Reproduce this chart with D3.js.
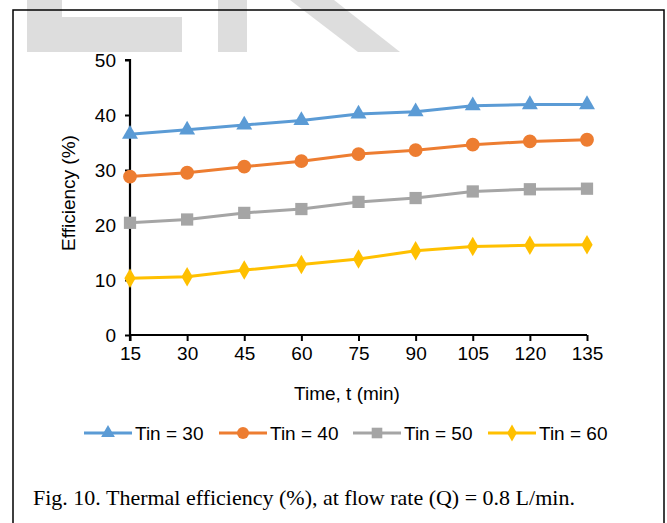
<!DOCTYPE html>
<html>
<head>
<meta charset="utf-8">
<script src="https://cdn.jsdelivr.net/npm/d3@7"></script>
<style>
   body { margin: 0; background: #fff; }
   svg { display: block; }
</style>
</head>
<body>
<div id="chart"></div>
<script>

// CATEGORIES (TIME, MIN)
var times = ['15', '30', '45', '60', '75', '90', '105', '120', '135'];

// SERIES VALUES, EFFICIENCY (%)
var tin30 = [36.5, 37.3, 38.2, 39.0, 40.2, 40.6, 41.7, 41.9, 41.9];
var tin40 = [28.8, 29.5, 30.6, 31.6, 32.9, 33.6, 34.6, 35.2, 35.5];
var tin50 = [20.4, 21.0, 22.2, 22.9, 24.2, 24.9, 26.1, 26.5, 26.6];
var tin60 = [10.3, 10.6, 11.8, 12.8, 13.8, 15.3, 16.1, 16.3, 16.4];

// LEGEND LABELS AND Y TICKS
var names = ['Tin = 30', 'Tin = 40', 'Tin = 50', 'Tin = 60'];
var yTicks = [0, 10, 20, 30, 40, 50];

// SETTINGS OBJECT
var settings = {
   width: 667,
   height: 523,
   font: '"Liberation Sans", Arial, sans-serif',
   fontSize: 19,
   colors: ['#5B9BD5', '#ED7D31', '#A5A5A5', '#FFC000'],
   symbols: [d3.symbolTriangle, d3.symbolCircle, d3.symbolSquare, d3.symbolDiamond],
   sizes: [110, 150, 150, 110],
   plot: { left: 130, right: 587, top: 60, bottom: 335 }
};

var series = [tin30, tin40, tin50, tin60];

// GENERATE CANVAS
var canvas = d3.select('#chart').append('svg')
   .attr('width', settings.width)
   .attr('height', settings.height);

// WATERMARK SHAPES AT THE TOP
var mark = canvas.append('g').attr('fill', '#dddddd');
mark.append('path').attr('d', 'M27,0 H62 V17 H182 V52 H27 Z');
mark.append('rect').attr('x', 218).attr('y', 0).attr('width', 29).attr('height', 52);
mark.append('path').attr('d', 'M290,0 H334 L400,52 H358 Z');

// OUTER FRAME
canvas.append('rect')
   .attr('x', 13)
   .attr('y', 10)
   .attr('width', 651)
   .attr('height', 530)
   .attr('fill', 'none')
   .attr('stroke', '#000')
   .attr('stroke-width', 1.5);

// SCALES
var xScale = d3.scalePoint()
   .domain(times)
   .range([settings.plot.left, settings.plot.right]);

var yScale = d3.scaleLinear()
   .domain([0, 50])
   .range([settings.plot.bottom, settings.plot.top]);

// Y AXIS
var yAxis = canvas.append('g')
   .attr('transform', 'translate(' + settings.plot.left + ',0)')
   .call(d3.axisLeft(yScale).tickValues(yTicks).tickSize(5).tickPadding(9));

// X AXIS
var xAxis = canvas.append('g')
   .attr('transform', 'translate(0,' + settings.plot.bottom + ')')
   .call(d3.axisBottom(xScale).tickSize(6).tickPadding(6));

[yAxis, xAxis].forEach(function (ax) {
   ax.select('.domain').attr('stroke', '#000').attr('stroke-width', 2.2);
   ax.selectAll('.tick line').attr('stroke', '#000').attr('stroke-width', 2);
   ax.selectAll('.tick text')
      .attr('fill', '#000')
      .style('font-family', settings.font)
      .style('font-size', settings.fontSize + 'px');
});
yAxis.select('.domain').attr('d', 'M-5,' + settings.plot.top + 'H0V' + (settings.plot.bottom + 6));
xAxis.select('.domain').attr('d', 'M' + settings.plot.left + ',0H' + settings.plot.right);

// AXIS TITLES
canvas.append('text')
   .attr('x', 347)
   .attr('y', 400)
   .attr('text-anchor', 'middle')
   .style('font-family', settings.font)
   .style('font-size', settings.fontSize + 'px')
   .text('Time, t (min)');

canvas.append('text')
   .attr('transform', 'translate(75,193) rotate(-90)')
   .attr('text-anchor', 'middle')
   .style('font-family', settings.font)
   .style('font-size', settings.fontSize + 'px')
   .text('Efficiency (%)');

// LINES AND MARKERS
var pathify = d3.line()
   .x((d, i) => { return xScale(times[i]) })
   .y((d) => { return yScale(d) });

series.forEach(function (values, s) {
   canvas.append('path')
      .attr('d', pathify(values))
      .attr('fill', 'none')
      .attr('stroke', settings.colors[s])
      .attr('stroke-width', 3)
      .attr('stroke-linejoin', 'round');

   canvas.selectAll('.m' + s).data(values).enter()
      .append('path')
      .attr('class', 'm' + s)
      .attr('d', d3.symbol().type(settings.symbols[s]).size(settings.sizes[s]))
      .attr('transform', (d, i) => { return 'translate(' + xScale(times[i]) + ',' + yScale(d) + ')' })
      .attr('fill', settings.colors[s]);
});

// LEGEND
var legendX = [84, 219, 353, 488];
var legend = canvas.append('g');
names.forEach(function (name, s) {
   var g = legend.append('g').attr('transform', 'translate(' + legendX[s] + ',433)');
   g.append('line')
      .attr('x1', 0).attr('x2', 48)
      .attr('stroke', settings.colors[s])
      .attr('stroke-width', 3);
   g.append('path')
      .attr('d', d3.symbol().type(settings.symbols[s]).size(settings.sizes[s] * 0.75))
      .attr('transform', 'translate(24,0)')
      .attr('fill', settings.colors[s]);
   g.append('text')
      .attr('x', 51)
      .attr('dy', '0.35em')
      .style('font-family', settings.font)
      .style('font-size', settings.fontSize + 'px')
      .text(name);
});

// CAPTION
canvas.append('text')
   .attr('x', 33)
   .attr('y', 505)
   .style('font-family', '"Liberation Serif", "Times New Roman", serif')
   .style('font-size', '22px')
   .text('Fig. 10. Thermal efficiency (%), at flow rate (Q) = 0.8 L/min.');

</script>
</body>
</html>
